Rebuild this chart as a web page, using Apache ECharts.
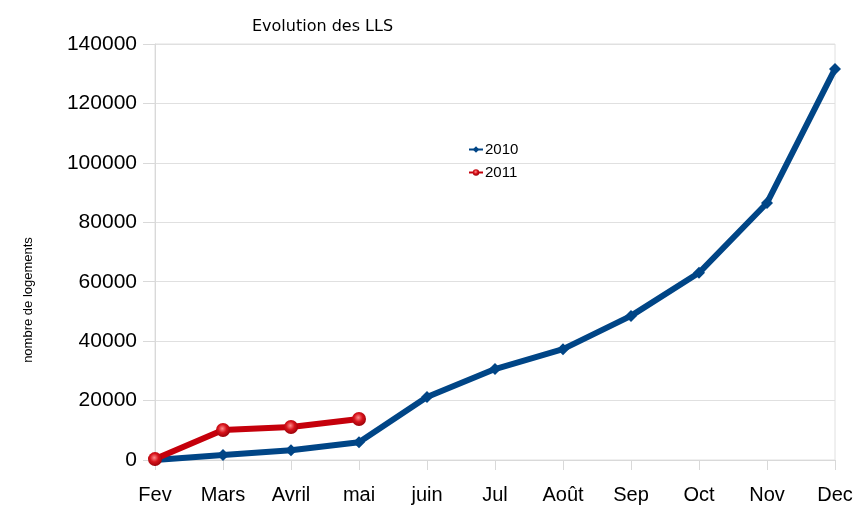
<!DOCTYPE html>
<html><head><meta charset="utf-8">
<script src="https://cdn.jsdelivr.net/npm/echarts@6/dist/echarts.min.js"></script>
<style>html,body{margin:0;padding:0;background:#fff}#c{width:857px;height:505px}</style>
</head><body><div id="c"></div>
<script>
var categories = ['Fev','Mars','Avril','mai','juin','Jul','Août','Sep','Oct','Nov','Dec'];
var s2010 = [0, 1700, 3300, 6000, 21200, 30600, 37300, 48500, 63000, 86500, 131600];
var s2011 = [300, 10100, 11100, 13800];
var yTicks = [0, 20000, 40000, 60000, 80000, 100000, 120000, 140000];

var chart = echarts.init(document.getElementById('c'));
chart.setOption({
  animation: false,
  textStyle: {fontFamily: 'Liberation Sans'},
  title: {text: 'Evolution des LLS', left: 247, top: 14,
    textStyle: {fontSize: 16, fontWeight: 'normal', color: '#000', fontFamily: 'DejaVu Sans'}},
  legend: {
    orient: 'vertical', left: 463, top: 137, itemGap: 8, itemWidth: 14, itemHeight: 8,
    textStyle: {fontSize: 15, color: '#000', padding: [0,0,0,-3]},
    data: ['2010', '2011']
  },
  graphic: [{
    type: 'text', x: 28, y: 300, rotation: Math.PI / 2,
    style: {text: 'nombre de logements', fontSize: 13, fill: '#000', fontFamily: 'Liberation Sans',
      align: 'center', verticalAlign: 'middle'}
  }],
  grid: {left: 155, right: 22, top: 44, bottom: 45, containLabel: false, show: true, borderColor: '#e0e0e0', borderWidth: 1},
  xAxis: {
    type: 'category', data: categories, boundaryGap: false,
    axisLine: {lineStyle: {color: '#d9d9d9', width: 1}},
    axisTick: {show: true, length: 10, alignWithLabel: true, lineStyle: {color: '#d9d9d9'}},
    axisLabel: {fontSize: 20, color: '#000', margin: 25, interval: 0, verticalAlign: 'top'},
    splitLine: {show: false}
  },
  yAxis: {
    type: 'value', min: 0, max: 140000, interval: 20000,
    axisLine: {show: true, lineStyle: {color: '#d9d9d9'}},
    axisTick: {show: true, length: 12, inside: false, lineStyle: {color: '#d9d9d9'}},
    axisLabel: {fontSize: 21, color: '#000', margin: 18,
      formatter: function(v){ return yTicks.indexOf(v) >= 0 ? String(v) : ''; }},
    splitLine: {show: true, lineStyle: {color: '#e0e0e0'}}
  },
  series: [
    {name: '2010', type: 'line', data: s2010, symbol: 'diamond', symbolSize: 12,
      lineStyle: {color: '#004586', width: 6}, itemStyle: {color: '#004586'}, z: 2},
    {name: '2011', type: 'line', data: s2011, symbol: 'circle', symbolSize: 14,
      lineStyle: {color: '#c5000b', width: 6},
      itemStyle: {color: {type: 'radial', x: 0.45, y: 0.4, r: 0.6,
        colorStops: [{offset: 0, color: '#ff8c8c'}, {offset: 0.5, color: '#d7131b'}, {offset: 1, color: '#9a0008'}]}},
      z: 3}
  ]
});
</script></body></html>
